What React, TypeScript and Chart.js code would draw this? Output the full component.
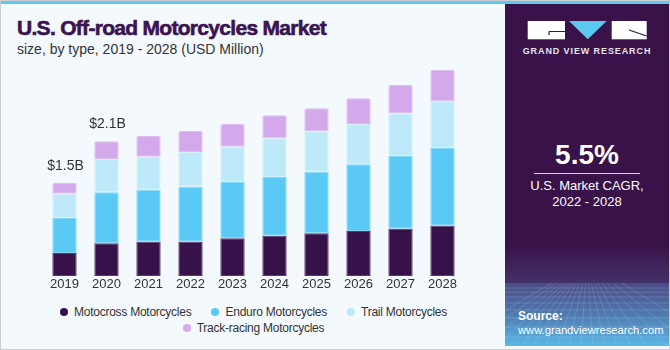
import React, { useEffect, useRef } from "react";
import { Chart, registerables } from "chart.js";

Chart.register(...registerables);

const years = ["2019", "2020", "2021", "2022", "2023", "2024", "2025", "2026", "2027", "2028"];
const motocross = [368, 523, 549, 549, 603, 645, 683, 720, 757, 805];
const enduro = [560, 816, 832, 880, 901, 939, 987, 1067, 1163, 1243];
const trail = [389, 533, 528, 555, 565, 619, 645, 645, 683, 752];
const trackRacing = [176, 283, 331, 336, 363, 368, 368, 411, 453, 501];
const totalLabels = ["$1.5B", "$2.1B", "", "", "", "", "", "", "", ""];
const seriesNames = ["Motocross Motorcycles", "Enduro Motorcycles", "Trail Motorcycles", "Track-racing Motorcycles"];
const seriesColors = ["#37114a", "#5bc9f5", "#bee9f9", "#d4a9ec"];
const seriesBorders = ["#5a3a6c", "#86d6f6", "#d6f1fb", "#dcbcef"];

const FONT = "'Liberation Sans', Arial, sans-serif";

const totalsPlugin = {
  id: "totals",
  afterDatasetsDraw(chart: any) {
    const ctx = chart.ctx;
    const last = chart.getDatasetMeta(chart.data.datasets.length - 1);
    ctx.save();
    ctx.font = `14px ${FONT}`;
    ctx.fillStyle = "#333333";
    ctx.textAlign = "center";
    ctx.textBaseline = "middle";
    totalLabels.forEach((t, i) => {
      if (!t) return;
      const el = last.data[i];
      ctx.fillText(t, el.x + 1, el.y - 17);
    });
    ctx.restore();
  },
};

function BarChart() {
  const ref = useRef<HTMLCanvasElement | null>(null);
  useEffect(() => {
    if (!ref.current) return;
    const series = [motocross, enduro, trail, trackRacing];
    const chart = new Chart(ref.current, {
      type: "bar",
      data: {
        labels: years,
        datasets: series.map((d, i) => ({
          label: seriesNames[i],
          data: d,
          backgroundColor: seriesColors[i],
          borderColor: seriesBorders[i],
          borderWidth: 1,
          borderSkipped: false,
          borderRadius: i === 3 ? { topLeft: 2, topRight: 2, bottomLeft: 0, bottomRight: 0 } : 0,
          barPercentage: 0.58,
          categoryPercentage: 1,
        })),
      },
      options: {
        animation: false,
        responsive: true,
        maintainAspectRatio: false,
        layout: { padding: { left: 43.5, right: 41.5, top: 0, bottom: 0 } },
        plugins: { legend: { display: false }, tooltip: { enabled: false } },
        scales: {
          x: {
            stacked: true,
            grid: { display: false, drawTicks: false },
            border: { display: false },
            ticks: { color: "#333333", font: { family: FONT, size: 13 }, padding: 1 },
            afterFit: (s: any) => {
              s.height = 24;
            },
          },
          y: { stacked: true, display: false, min: 0, max: 3456 },
        },
      },
      plugins: [totalsPlugin],
    } as any);
    return () => chart.destroy();
  }, []);
  return (
    <div style={{ position: "absolute", left: 0, top: 60, width: 505, height: 240 }}>
      <canvas ref={ref} />
    </div>
  );
}

function Legend() {
  return (
    <div
      style={{
        position: "absolute",
        left: 43.5,
        top: 303.5,
        width: 420,
        display: "flex",
        flexWrap: "wrap",
        justifyContent: "center",
        columnGap: 20,
        rowGap: 0,
        fontFamily: FONT,
        fontSize: 12,
        letterSpacing: -0.25,
        lineHeight: "16px",
        color: "#333333",
      }}
    >
      {seriesNames.map((n, i) => (
        <div key={n} style={{ display: "flex", alignItems: "center", whiteSpace: "nowrap" }}>
          <span
            style={{
              display: "inline-block",
              width: 8,
              height: 8,
              borderRadius: 4,
              background: seriesColors[i],
              marginRight: 6,
            }}
          />
          <span>{n}</span>
        </div>
      ))}
    </div>
  );
}

const gridH = [288, 292, 297, 303, 310, 318, 327, 337];
const gridV = [-60, -40, -22, -8, 4, 16, 28, 40, 52, 64, 76, 88, 100, 112, 126, 142, 162, 186, 220];

function Panel() {
  return (
    <div
      style={{
        position: "absolute",
        left: 505,
        top: 4,
        width: 164,
        height: 342,
        background: "#381248",
        overflow: "hidden",
        fontFamily: FONT,
        color: "#ffffff",
      }}
    >
      <svg width={164} height={342} style={{ position: "absolute", left: 0, top: 0 }}>
        <defs>
          <linearGradient id="g1" x1="0" y1="0" x2="0" y2="1">
            <stop offset="0" stopColor="#381248" />
            <stop offset="1" stopColor="#443169" />
          </linearGradient>
          <linearGradient id="g2" x1="0" y1="0" x2="0" y2="1">
            <stop offset="0" stopColor="#4a4b84" />
            <stop offset="0.5" stopColor="#4f7ab0" />
            <stop offset="1" stopColor="#5bb8e6" />
          </linearGradient>
        </defs>
        <rect x={0} y={240} width={164} height={39} fill="url(#g1)" />
        <rect x={0} y={279} width={164} height={63} fill="url(#g2)" />
        {gridH.map((y) => (
          <line key={"h" + y} x1={0} x2={164} y1={y - 4} y2={y - 4} stroke="rgba(220,230,255,0.22)" strokeWidth={0.8} />
        ))}
        {gridV.map((x) => (
          <line key={"v" + x} x1={82 + (x - 82) * 0.25} y1={279} x2={x} y2={342} stroke="rgba(220,230,255,0.22)" strokeWidth={0.8} />
        ))}
        <rect x={22.7} y={17} width={37.3} height={18.3} fill="#ffffff" />
        <path d="M44 27.5 H60 M44 27.5 V31" stroke="#381248" strokeWidth={1.2} fill="none" />
        <polygon points="64,17 101.7,17 82.8,35.3" fill="#5bc8f0" />
        <rect x={106.7} y={17} width={35} height={18.3} fill="#ffffff" />
        <path d="M124 26 L141.7 32" stroke="#381248" strokeWidth={1.2} fill="none" />
      </svg>
      <div
        style={{
          position: "absolute",
          left: 0,
          width: 164,
          top: 41,
          textAlign: "center",
          fontSize: 9,
          fontWeight: 700,
          letterSpacing: 0.9,
          lineHeight: "12px",
          color: "#e8e4ee",
        }}
      >
        GRAND VIEW RESEARCH
      </div>
      <div
        style={{
          position: "absolute",
          left: 0,
          width: 164,
          top: 135,
          textAlign: "center",
          fontSize: 28,
          fontWeight: 700,
          lineHeight: "32px",
        }}
      >
        5.5%
      </div>
      <div style={{ position: "absolute", left: 29, width: 106, top: 168.8, height: 1, background: "#d8d0e0" }} />
      <div
        style={{
          position: "absolute",
          left: 0,
          width: 164,
          top: 174,
          textAlign: "center",
          fontSize: 13,
          lineHeight: "15.5px",
        }}
      >
        U.S. Market CAGR,
        <br />
        2022 - 2028
      </div>
      <div style={{ position: "absolute", left: 13, top: 305, fontSize: 11.2, lineHeight: "14px" }}>
        <div style={{ fontWeight: 700, fontSize: 12 }}>Source:</div>
        <div>www.grandviewresearch.com</div>
      </div>
    </div>
  );
}

export default function App() {
  return (
    <div
      style={{
        position: "absolute",
        left: 0,
        top: 0,
        width: 670,
        height: 350,
        boxSizing: "border-box",
        border: "1px solid #cccccc",
        background: "#f4f9fd",
        overflow: "hidden",
      }}
    >
      <div style={{ position: "absolute", left: -1, top: -1, width: 670, height: 4, background: "#5cc9f2" }} />
      <div
        style={{
          position: "absolute",
          left: 16,
          top: 14,
          fontFamily: FONT,
          fontSize: 21,
          fontWeight: 700,
          letterSpacing: -0.7,
          color: "#3a1350",
          WebkitTextStroke: "0.6px #3a1350",
          whiteSpace: "nowrap",
          lineHeight: "26px",
        }}
      >
        U.S. Off-road Motorcycles Market
      </div>
      <div
        style={{
          position: "absolute",
          left: 16,
          top: 39,
          fontFamily: FONT,
          fontSize: 14,
          color: "#333333",
          whiteSpace: "nowrap",
          lineHeight: "18px",
        }}
      >
        size, by type, 2019 - 2028 (USD Million)
      </div>
      <div style={{ position: "absolute", left: -1, top: -1, width: 670, height: 350 }}>
        <BarChart />
        <Legend />
        <Panel />
      </div>
    </div>
  );
}
